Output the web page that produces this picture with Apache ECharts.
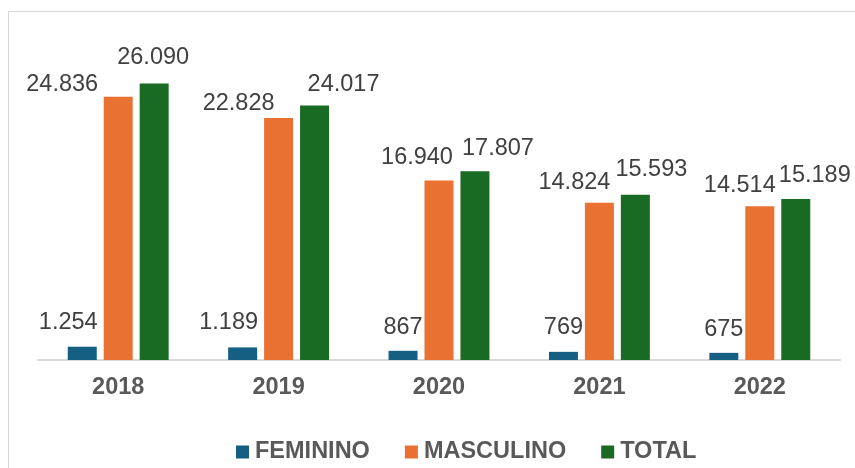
<!DOCTYPE html>
<html>
<head>
<meta charset="utf-8">
<script src="https://cdn.jsdelivr.net/npm/echarts@6/dist/echarts.min.js"></script>
<style>
  html, body { margin: 0; padding: 0; background: #fff; }
  #chart { width: 855px; height: 468px; }
</style>
</head>
<body>
<div id="chart"></div>
<script>
// dados
var anos = ['2018', '2019', '2020', '2021', '2022'];
var feminino = [1254, 1189, 867, 769, 675];
var masculino = [24836, 22828, 16940, 14824, 14514];
var total = [26090, 24017, 17807, 15593, 15189];

// deslocamento dos rótulos (como estão no gráfico original)
var offFem = [[-14, -12], [-14, -12.5], [0, -11.5], [0, -12.5], [0, -11]];
var offMas = [[-56, 0], [-40, -3], [-22, -10.5], [-25, -8], [-20, -8.5]];
var offTot = [[-1, -13.5], [29, -9], [23, -10.5], [16, -13], [19, -11]];

function fmt(v) {
    return String(v).replace(/\B(?=(\d{3})+(?!\d))/g, '.');
}

function comRotulos(valores, offsets) {
    return valores.map(function (v, i) {
        return { value: v, label: { offset: offsets[i] } };
    });
}

var fonte = '"Liberation Sans", Arial, sans-serif';
var rotulo = {
    show: true,
    position: 'top',
    distance: 0,
    color: '#404040',
    fontFamily: fonte,
    fontSize: 23.5,
    formatter: function (p) { return fmt(p.value); }
};

var myChart = echarts.init(document.getElementById('chart'));

var option = {
    backgroundColor: '#fff',
    animation: false,
    graphic: [{
        type: 'rect',
        shape: { x: 8.5, y: 11.5, width: 900, height: 500 },
        style: { fill: 'none', stroke: '#D6D6D6', lineWidth: 1 },
        silent: true
    }],
    legend: {
        left: 231,
        top: 435,
        itemWidth: 13,
        itemHeight: 13,
        itemGap: 35,
        icon: 'rect',
        textStyle: {
            color: '#595959',
            fontFamily: fonte,
            fontWeight: 'bold',
            fontSize: 23.5,
            padding: [0, 0, 0, 1]
        },
        data: ['FEMININO', 'MASCULINO', 'TOTAL']
    },
    grid: {
        left: 38,
        right: 15,
        top: 42,
        bottom: 108
    },
    xAxis: {
        type: 'category',
        data: anos,
        axisLine: { lineStyle: { color: '#D9D9D9', width: 2 } },
        axisTick: { length: 7, lineStyle: { color: '#D9D9D9', width: 2 } },
        axisLabel: {
            margin: 16,
            color: '#595959',
            fontFamily: fonte,
            fontWeight: 'bold',
            fontSize: 23.5
        }
    },
    yAxis: {
        type: 'value',
        min: 0,
        max: 30000,
        show: false,
        splitLine: { show: false }
    },
    series: [
        {
            name: 'FEMININO',
            type: 'bar',
            barWidth: 29,
            barGap: '24%',
            itemStyle: { color: '#156082' },
            label: rotulo,
            data: comRotulos(feminino, offFem)
        },
        {
            name: 'MASCULINO',
            type: 'bar',
            barWidth: 29,
            barGap: '24%',
            itemStyle: { color: '#E97132' },
            label: rotulo,
            data: comRotulos(masculino, offMas)
        },
        {
            name: 'TOTAL',
            type: 'bar',
            barWidth: 29,
            barGap: '24%',
            itemStyle: { color: '#196B24' },
            label: rotulo,
            data: comRotulos(total, offTot)
        }
    ]
};
myChart.setOption(option);
</script>
</body>
</html>
